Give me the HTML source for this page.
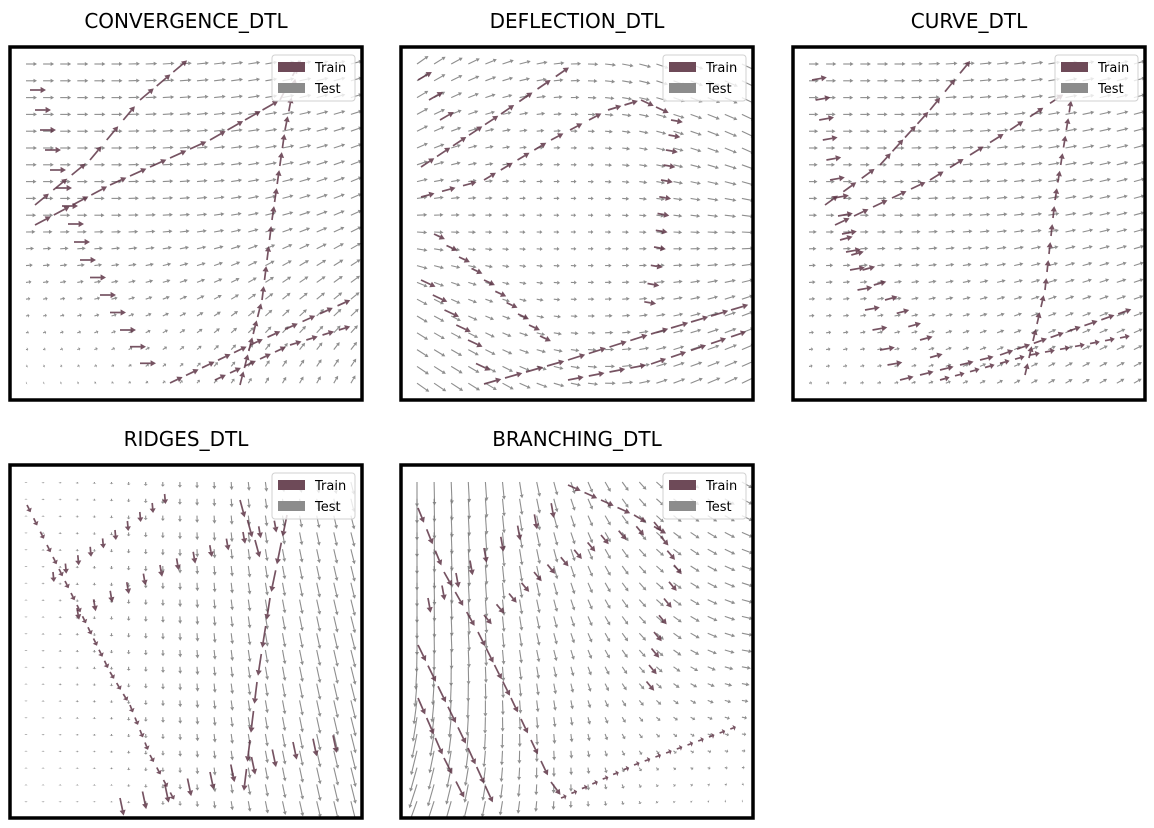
<!DOCTYPE html>
<html><head><meta charset="utf-8">
<style>
html,body{margin:0;padding:0;background:#fff;}
svg{display:block;font-family:"DejaVu Sans","Liberation Sans",sans-serif;}
</style></head>
<body>
<svg id="fig" width="1154" height="828" viewBox="0 0 1154 828" xmlns="http://www.w3.org/2000/svg"></svg>
<script>
// ---- data ----
const panelTitles = ["CONVERGENCE_DTL","DEFLECTION_DTL","CURVE_DTL","RIDGES_DTL","BRANCHING_DTL"];
const panelOrigins = [[10,47],[401,47],[793,47],[10,465],[401,465]];
// coarse 5x5 test-field grids (rows top->bottom, cols left->right); angle in screen degrees, length px
const testAngle = [
 [[0,0,-5,-10,-15],[0,0,-5,-10,-20],[0,0,-5,-15,-25],[-10,-15,-25,-40,-40],[-20,-30,-50,-60,-60]],
 [[-35,-20,0,20,25],[-25,-10,0,15,25],[0,0,0,5,5],[30,20,0,-10,-20],[35,30,10,-20,-25]],
 [[0,0,-5,-10,-15],[0,0,-5,-10,-15],[0,0,-5,-10,-15],[-5,-10,-15,-20,-20],[-10,-15,-25,-30,-30]],
 [[90,90,90,82,76],[90,90,88,80,76],[90,90,86,80,76],[90,90,85,80,76],[90,90,85,78,76]],
 [[90,85,70,40,30],[90,85,70,40,20],[90,85,70,40,10],[100,90,80,40,10],[110,100,90,60,-10]]
];
const testLen = [
 [[11,11,12,12,12],[11,11,11,12,12],[10,10,10,11,12],[4,6,8,10,11],[1,2,4,7,9]],
 [[14,12,10,13,15],[12,8,6,10,14],[10,6,5,8,12],[12,8,6,9,12],[15,13,10,12,15]],
 [[10,11,12,12,12],[9,10,11,12,12],[8,9,10,11,11],[6,7,8,9,10],[3,4,6,8,9]],
 [[1,2,6,10,13],[1,3,8,13,16],[1,3,8,14,18],[1,2,7,13,20],[1,1,5,13,20]],
 [[25,18,12,10,12],[25,18,12,10,12],[22,15,10,10,11],[25,15,8,5,5],[25,15,6,2,1]]
];
// train tracks: [points], arrow length, fixed angle (null = along track)
const trainTracks = [
 [
  [[[35,205],[90,160],[140,100],[190,58]],18,null],
  [[[35,225],[110,185],[210,140],[280,100],[305,52]],18,null],
  [[[240,385],[262,300],[272,220],[285,130],[300,55]],14,null],
  [[[170,383],[250,345],[355,298]],14,null],
  [[[215,380],[290,345],[355,325]],12,null],
  [[[30,90],[50,170],[80,260],[120,330],[150,380]],16,0]
 ],
 [
  [[[421,167],[501,114],[574,64]],16,null],
  [[[421,197],[484,180],[551,140],[608,110],[641,100],[671,114]],14,null],
  [[[671,120],[661,180],[654,247],[641,320]],12,10],
  [[[421,280],[468,340],[484,387]],16,25],
  [[[434,234],[484,280],[518,314],[551,347]],12,25],
  [[[484,384],[568,360],[651,334],[751,304]],18,null],
  [[[568,380],[651,364],[751,330]],16,null],
  [[[418,80],[440,120],[425,140]],16,-30]
 ],
 [
  [[[825,205],[880,165],[930,110],[975,55]],16,null],
  [[[835,225],[930,180],[1010,130],[1070,90]],16,null],
  [[[1025,375],[1045,290],[1055,200],[1072,95]],12,null],
  [[[900,380],[1000,355],[1135,308]],14,null],
  [[[940,380],[1030,355],[1135,335]],10,null],
  [[[812,80],[830,180],[850,270],[880,350],[895,380]],15,-10],
  [[[840,240],[885,300],[920,340],[940,375]],13,-15]
 ],
 [
  [[[27,505],[47,545],[77,605],[110,672],[130,705],[150,755],[177,805]],8,null],
  [[[53,572],[115,530],[177,485]],10,85],
  [[[77,608],[160,565],[243,532],[290,515]],12,80],
  [[[287,515],[270,598],[257,682],[243,798]],22,null],
  [[[120,798],[210,772],[293,742],[353,732]],18,78],
  [[[240,500],[255,540],[270,560]],18,75]
 ],
 [
  [[[418,508],[444,572],[478,632],[511,698],[551,782],[568,805]],16,null],
  [[[418,645],[468,748],[494,805]],18,null],
  [[[418,698],[444,758],[468,805]],18,null],
  [[[428,598],[484,548],[568,492]],15,80],
  [[[484,615],[534,572],[601,535],[654,522],[674,565],[654,632],[644,698]],12,50],
  [[[568,485],[634,515],[674,538]],14,null],
  [[[561,798],[634,765],[741,725]],6,-20]
 ]
];

// ---- drawing ----
const NS="http://www.w3.org/2000/svg";
const svg=document.getElementById('fig');
function mk(tag,attrs,parent){const e=document.createElementNS(NS,tag);for(const k in attrs)e.setAttribute(k,attrs[k]);(parent||svg).appendChild(e);return e;}
function bil(g,u,v){
  const x=u*4,y=v*4;const i=Math.min(3,Math.floor(x)),j=Math.min(3,Math.floor(y));const fx=x-i,fy=y-j;
  return g[j][i]*(1-fx)*(1-fy)+g[j][i+1]*fx*(1-fy)+g[j+1][i]*(1-fx)*fy+g[j+1][i+1]*fx*fy;}
function arrow(g,x,y,ang,len,col,w,op){
  const a=ang*Math.PI/180,dx=Math.cos(a),dy=Math.sin(a);
  const hl=Math.min(len*0.45,w*3.2),hw=w*1.8;
  const ex=x+dx*len,ey=y+dy*len,bx=ex-dx*hl,by=ey-dy*hl;
  mk('path',{d:`M${x.toFixed(1)},${y.toFixed(1)}L${bx.toFixed(1)},${by.toFixed(1)}`,stroke:col,'stroke-width':w,'stroke-opacity':op,fill:'none'},g);
  mk('polygon',{points:`${ex.toFixed(1)},${ey.toFixed(1)} ${(bx-dy*hw).toFixed(1)},${(by+dx*hw).toFixed(1)} ${(bx+dy*hw).toFixed(1)},${(by-dx*hw).toFixed(1)}`,fill:col,'fill-opacity':op},g);
}

panelTitles.forEach((t,k)=>{
  const [x0,y0]=panelOrigins[k];const W=352,H=353;
  const g=mk('g',{});
  
  
  const title=mk('text',{x:x0+W/2,y:y0-19,'text-anchor':'middle','font-size':20,fill:'#000'},g);
  title.textContent=t;
  
  
  const clip=mk('clipPath',{id:'c'+k},g);mk('rect',{x:x0,y:y0,width:W,height:H},clip);
  const ag=mk('g',{'clip-path':`url(#c${k})`},g);
  const tg=mk('g',{},ag);
  
  
  for(let j=0;j<20;j++)for(let i=0;i<20;i++){
    const u=i/19,v=j/19;
    const px=x0+16+i*17.1,py=y0+17+j*16.8;
    const ang=bil(testAngle[k],u,v),len=bil(testLen[k],u,v);
    arrow(tg,px,py,ang,len,'#7a7a7a',1.1,0.85);
  }
  const rg=mk('g',{},ag);
  
  
  trainTracks[k].forEach(tr=>{
    const pts=tr[0],L=tr[1],fa=tr[2];
    const step=Math.max(12,L+5);
    for(let s=0;s<pts.length-1;s++){
      const [ax,ay]=pts[s],[bx,by]=pts[s+1];
      const d=Math.hypot(bx-ax,by-ay);const n=Math.max(1,Math.round(d/step));
      const tang=Math.atan2(by-ay,bx-ax)*180/Math.PI;
      for(let m=0;m<n;m++){const f=m/n;
        arrow(rg,ax+(bx-ax)*f,ay+(by-ay)*f,fa===null?tang:fa,L,'#5e3547',1.7,0.85);}
    }
  });
  const fr=mk('rect',{x:x0,y:y0,width:W,height:H,fill:'none',stroke:'#000','stroke-width':3.5},g);
  
  
  const lg=mk('g',{},g);
  
  
  mk('rect',{x:x0+262,y:y0+8,width:83,height:46,rx:3,fill:'#fff','fill-opacity':0.8,stroke:'#d0d0d0'},lg);
  const p1=mk('rect',{x:x0+268,y:y0+15,width:27,height:10,fill:'#6e4a58'},lg);
  
  
  const t1=mk('text',{x:x0+305,y:y0+25,'font-size':13,fill:'#000'},lg);t1.textContent='Train';
  
  
  const p2=mk('rect',{x:x0+268,y:y0+36,width:27,height:10,fill:'#8c8c8c'},lg);
  
  
  const t2=mk('text',{x:x0+305,y:y0+46,'font-size':13,fill:'#000'},lg);t2.textContent='Test';
  
  
});
</script>
</body></html>
